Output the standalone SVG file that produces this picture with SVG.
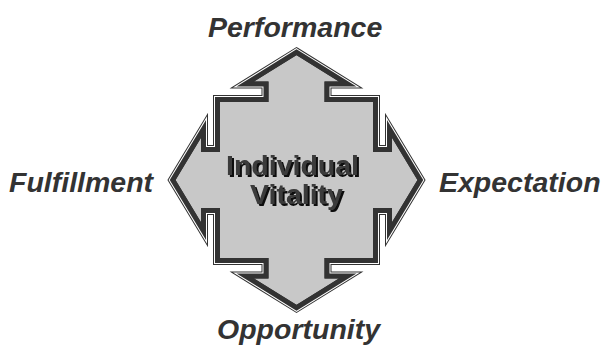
<svg xmlns="http://www.w3.org/2000/svg" xmlns:xlink="http://www.w3.org/1999/xlink" width="603" height="349" viewBox="0 0 603 349">
<style>
.lbl{font-family:"Liberation Sans",Arial,sans-serif;font-weight:bold;font-style:italic;font-size:28.5px;fill:#333333}
.ctr{font-family:"Liberation Sans",Arial,sans-serif;font-weight:bold;font-size:28.5px;text-anchor:middle;fill:#3a3a3a}
.ln{fill:none;stroke-linejoin:miter;stroke-miterlimit:10}
</style>
<defs>
<path id="shape" d="M296.5,51 L351.2,85 L328,85 L328,98.5 L376.5,98.5 L376.5,148.5 L388.5,148.5 L388.5,125.3 L421.5,180 L388.5,234.7 L388.5,211.5 L376.5,211.5 L376.5,261.5 L328,261.5 L328,275 L351.2,275 L296.5,309 L241.8,275 L265,275 L265,261.5 L216.5,261.5 L216.5,211.5 L204.5,211.5 L204.5,234.7 L171.5,180 L204.5,125.3 L204.5,148.5 L216.5,148.5 L216.5,98.5 L265,98.5 L265,85 L241.8,85 Z"/>
<clipPath id="inside"><use xlink:href="#shape"/></clipPath>
<filter id="shadow" x="-10%" y="-20%" width="120%" height="140%">
<feOffset in="SourceAlpha" dx="1.6" dy="1.6" result="off"/>
<feFlood flood-color="#0d0d0d"/>
<feComposite in2="off" operator="in" result="sh"/>
<feMerge><feMergeNode in="sh"/><feMergeNode in="SourceGraphic"/></feMerge>
</filter>
</defs>
<rect width="603" height="349" fill="#ffffff"/>
<g id="connectors"></g>
<g id="vitality-arrow">
<use xlink:href="#shape" fill="#c8c8c8"/>
<use xlink:href="#shape" class="ln" stroke="#333333" stroke-width="7"/>
<use xlink:href="#shape" class="ln" stroke="#ffffff" stroke-width="5"/>
<use xlink:href="#shape" class="ln" stroke="#333333" stroke-width="3"/>
<use xlink:href="#shape" class="ln" stroke="#333333" stroke-width="7" clip-path="url(#inside)"/>
</g>
<g id="center-label" filter="url(#shadow)">
<text class="ctr" x="292.5" y="175">Individual</text>
<text class="ctr" x="296.5" y="204">Vitality</text>
</g>
<g id="performance"><text class="lbl" x="208" y="37">Performance</text></g>
<g id="fulfillment"><text class="lbl" x="9" y="192">Fulfillment</text></g>
<g id="expectation"><text class="lbl" x="439" y="192">Expectation</text></g>
<g id="opportunity"><text class="lbl" x="217" y="339">Opportunity</text></g>
</svg>
